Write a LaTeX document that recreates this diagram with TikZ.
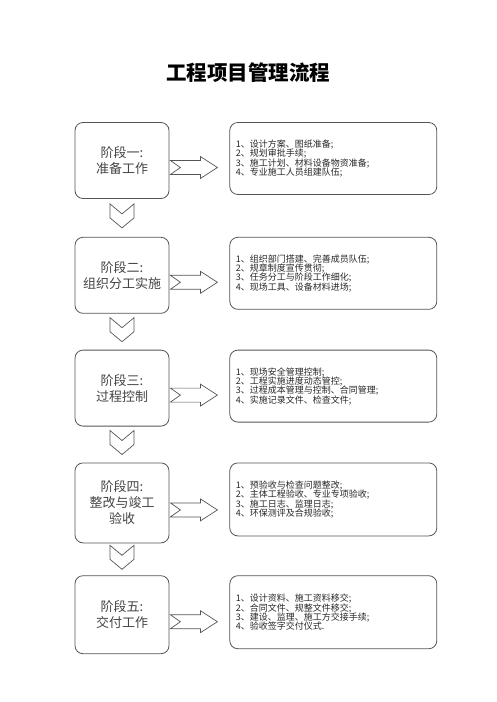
\documentclass[tikz,border=0pt]{standalone}
\usepackage{fontspec}
\setmainfont{Noto Sans CJK SC}
\usepackage{tikz}
\usetikzlibrary{positioning, calc}

\definecolor{lineGray}{HTML}{555555}
\definecolor{textGray}{HTML}{444444}
\newcommand{\listfont}{\fontsize{9}{9.3}\selectfont\lineskiplimit=-9pt\relax}

\begin{document}
\begin{tikzpicture}[
                                        x=1pt, y=-1pt,
                                        stage/.style={draw=lineGray, rounded corners=8pt, line width=0.8pt,
                                                minimum width=94pt, minimum height=76pt, align=center,
                                                font=\fontsize{13}{16}\selectfont, text=textGray},
                                        list/.style={draw=lineGray, rounded corners=8pt, line width=0.8pt,
                                                text width=195pt, inner xsep=6pt, minimum height=72pt, align=left,
                                                font=\listfont, text=black!85},
                                        outline/.style={draw=lineGray, line width=0.7pt, line join=miter},
                                ]
                                \useasboundingbox (0,0) rectangle (496,702);
                                \node[font=\fontsize{20.5}{24}\selectfont\bfseries] (title) at (248,73) {工程项目管理流程};

                                \node[stage] (s1) at (122,160.5) {阶段一:\\准备工作};
                                \node[stage, below=38pt of s1] (s2) {阶段二:\\组织分工实施};
                                \node[stage, below=36pt of s2] (s3) {阶段三:\\过程控制};
                                \node[stage, below=36pt of s3, minimum height=80pt] (s4) {阶段四:\\整改与竣工\\验收};
                                \node[stage, below=32pt of s4, minimum height=78pt] (s5) {阶段五:\\交付工作};

                                \node[list, right=60pt of s1.north east, anchor=north west] (t1)
                                        {1、设计方案、图纸准备;\\2、规划审批手续;\\3、施工计划、材料设备物资准备;\\4、专业施工人员组建队伍;};
                                \node[list, right=60pt of s2.north east, anchor=north west] (t2)
                                        {1、组织部门搭建、完善成员队伍;\\2、规章制度宣传贯彻;\\3、任务分工与阶段工作细化;\\4、现场工具、设备材料进场;};
                                \node[list, right=60pt of s3.north east, anchor=north west] (t3)
                                        {1、现场安全管理控制;\\2、工程实施进度动态管控;\\3、过程成本管理与控制、合同管理;\\4、实施记录文件、检查文件;};
                                \node[list, right=60pt of s4.north east, anchor=north west, minimum height=73pt] (t4)
                                        {1、预验收与检查问题整改;\\2、主体工程验收、专业专项验收;\\3、施工日志、监理日志;\\4、环保测评及合规验收;};
                                \node[list, right=60pt of s5.north east, anchor=north west, minimum height=73pt] (t5)
                                        {1、设计资料、施工资料移交;\\2、合同文件、规整文件移交;\\3、建设、监理、施工方交接手续;\\4、验收签字交付仪式.};

                                % block arrows to the lists
                                \foreach \i in {1,...,5}
                                        \draw[outline] ($(s\i.east)+(1,7)$) ++(0,-7) -- ++(30,0) -- ++(0,-4) -- ++(17,11)
                                                -- ++(-17,11) -- ++(0,-4) -- ++(-30,0) -- ++(10,-7) -- cycle;

                                % chevrons between stages
                                \foreach \i/\j in {1/2, 2/3, 3/4, 4/5}
                                        \draw[outline] ($(s\i.south)!0.5!(s\j.north)+(0,-2)$) ++(-12,-12) -- ++(12,10) -- ++(12,-10)
                                                -- ++(0,14) -- ++(-12,10) -- ++(-12,-10) -- cycle;
                        \end{tikzpicture}
\end{document}
